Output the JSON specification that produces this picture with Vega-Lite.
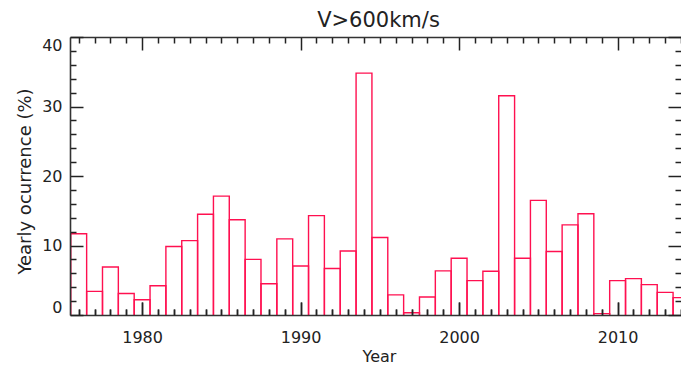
{
  "$schema": "https://vega.github.io/schema/vega-lite/v6.json",
  "width": 611,
  "height": 278,
  "autosize": "none",
  "padding": {"left": 70, "top": 37, "right": 0, "bottom": 51},
  "background": "white",
  "config": {
    "view": {"stroke": null},
    "font": "DejaVu Sans",
    "axis": {
      "grid": false,
      "zindex": 2,
      "domainColor": "#333",
      "domainWidth": 1.6,
      "tickColor": "#222",
      "tickWidth": 1.5,
      "labelFont": "DejaVu Sans",
      "labelFontSize": 16,
      "labelColor": "#222",
      "titleFont": "DejaVu Sans",
      "titleFontWeight": "normal",
      "titleColor": "#222",
      "labelOverlap": false
    }
  },
  "title": {
    "text": "V>600km/s",
    "font": "DejaVu Sans",
    "fontSize": 21,
    "fontWeight": "normal",
    "color": "#222",
    "offset": 5,
    "dx": 3
  },
  "data": {
    "values": [
      {"start": 1975.5, "end": 1976.5, "v": 11.7},
      {"start": 1976.5, "end": 1977.5, "v": 3.4},
      {"start": 1977.5, "end": 1978.5, "v": 6.9},
      {"start": 1978.5, "end": 1979.5, "v": 3.1},
      {"start": 1979.5, "end": 1980.5, "v": 2.2},
      {"start": 1980.5, "end": 1981.5, "v": 4.2},
      {"start": 1981.5, "end": 1982.5, "v": 9.85},
      {"start": 1982.5, "end": 1983.5, "v": 10.7},
      {"start": 1983.5, "end": 1984.5, "v": 14.5},
      {"start": 1984.5, "end": 1985.5, "v": 17.1},
      {"start": 1985.5, "end": 1986.5, "v": 13.7},
      {"start": 1986.5, "end": 1987.5, "v": 8.0},
      {"start": 1987.5, "end": 1988.5, "v": 4.5},
      {"start": 1988.5, "end": 1989.5, "v": 10.95},
      {"start": 1989.5, "end": 1990.5, "v": 7.05},
      {"start": 1990.5, "end": 1991.5, "v": 14.3},
      {"start": 1991.5, "end": 1992.5, "v": 6.7},
      {"start": 1992.5, "end": 1993.5, "v": 9.2},
      {"start": 1993.5, "end": 1994.5, "v": 34.8},
      {"start": 1994.5, "end": 1995.5, "v": 11.15},
      {"start": 1995.5, "end": 1996.5, "v": 2.9},
      {"start": 1996.5, "end": 1997.5, "v": 0.33},
      {"start": 1997.5, "end": 1998.5, "v": 2.6},
      {"start": 1998.5, "end": 1999.5, "v": 6.35},
      {"start": 1999.5, "end": 2000.5, "v": 8.17},
      {"start": 2000.5, "end": 2001.5, "v": 4.95},
      {"start": 2001.5, "end": 2002.5, "v": 6.3},
      {"start": 2002.5, "end": 2003.5, "v": 31.55},
      {"start": 2003.5, "end": 2004.5, "v": 8.17},
      {"start": 2004.5, "end": 2005.5, "v": 16.5},
      {"start": 2005.5, "end": 2006.5, "v": 9.13},
      {"start": 2006.5, "end": 2007.5, "v": 12.97},
      {"start": 2007.5, "end": 2008.5, "v": 14.56},
      {"start": 2008.5, "end": 2009.5, "v": 0.2},
      {"start": 2009.5, "end": 2010.5, "v": 4.95},
      {"start": 2010.5, "end": 2011.5, "v": 5.24},
      {"start": 2011.5, "end": 2012.5, "v": 4.37},
      {"start": 2012.5, "end": 2013.5, "v": 3.26},
      {"start": 2013.5, "end": 2014.5, "v": 2.5}
    ]
  },
  "resolve": {"axis": {"x": "independent", "y": "independent"}},
  "layer": [
    {
      "mark": {"type": "rect", "fill": null, "fillOpacity": 0, "stroke": "#ff1050", "strokeWidth": 1.4, "clip": true},
      "encoding": {
        "x": {
          "field": "start",
          "type": "quantitative",
          "scale": {"domain": [1975.45, 2014.0], "nice": false, "zero": false},
          "axis": {
            "orient": "bottom",
            "zindex": 2,
            "title": "Year",
            "titleFontSize": 16,
            "titleX": 309,
            "titleY": 41,
            "titleBaseline": "middle",
            "values": [1976,1977,1978,1979,1980,1981,1982,1983,1984,1985,1986,1987,1988,1989,1990,1991,1992,1993,1994,1995,1996,1997,1998,1999,2000,2001,2002,2003,2004,2005,2006,2007,2008,2009,2010,2011,2012,2013,2014],
            "format": "d",
            "labelExpr": "datum.value % 10 === 0 ? datum.label : ''",
            "tickSize": {"condition": {"test": "datum.value % 10 === 0", "value": -13}, "value": -6},
            "labelPadding": 27
          }
        },
        "x2": {"field": "end"},
        "y": {
          "field": "v",
          "type": "quantitative",
          "scale": {"domain": [0, 40], "nice": false, "zero": true},
          "axis": {
            "orient": "left",
            "zindex": 2,
            "title": "Yearly ocurrence (%)",
            "titleFontSize": 18,
            "titleX": -45,
            "titleY": 144,
            "titleBaseline": "middle",
            "values": [0,2,4,6,8,10,12,14,16,18,20,22,24,26,28,30,32,34,36,38,40],
            "format": "d",
            "labelExpr": "datum.value % 10 === 0 ? datum.label : ''",
            "tickSize": {"condition": {"test": "datum.value % 10 === 0", "value": -13}, "value": -6},
            "labelPadding": 21,
            "labelFlush": true
          }
        },
        "y2": {"datum": -1}
      }
    },
    {
      "mark": {"type": "rect", "fillOpacity": 0, "strokeOpacity": 0, "clip": true},
      "encoding": {
        "x": {
          "field": "start",
          "type": "quantitative",
          "axis": {
            "orient": "top",
            "zindex": 2,
            "title": null,
            "labels": false,
            "values": [1976,1977,1978,1979,1980,1981,1982,1983,1984,1985,1986,1987,1988,1989,1990,1991,1992,1993,1994,1995,1996,1997,1998,1999,2000,2001,2002,2003,2004,2005,2006,2007,2008,2009,2010,2011,2012,2013,2014],
            "tickSize": {"condition": {"test": "datum.value % 10 === 0", "value": -13}, "value": -6}
          }
        },
        "x2": {"field": "end"},
        "y": {
          "field": "v",
          "type": "quantitative",
          "axis": {
            "orient": "right",
            "zindex": 2,
            "title": null,
            "labels": false,
            "domain": false,
            "values": [0,2,4,6,8,10,12,14,16,18,20,22,24,26,28,30,32,34,36,38,40],
            "tickSize": {"condition": {"test": "datum.value % 10 === 0", "value": -13}, "value": -6}
          }
        },
        "y2": {"datum": 0}
      }
    },
    {
      "mark": {"type": "rect", "fillOpacity": 0, "strokeOpacity": 0, "clip": true},
      "encoding": {
        "x": {
          "field": "start",
          "type": "quantitative",
          "axis": {
            "orient": "bottom",
            "zindex": 3,
            "title": null,
            "labels": false,
            "domain": false,
            "values": [1976,1977,1978,1979,1980,1981,1982,1983,1984,1985,1986,1987,1988,1989,1990,1991,1992,1993,1994,1995,1996,1997,1998,1999,2000,2001,2002,2003,2004,2005,2006,2007,2008,2009,2010,2011,2012,2013,2014],
            "tickSize": {"condition": {"test": "datum.value % 10 === 0", "value": -13}, "value": -6}
          }
        },
        "x2": {"field": "end"},
        "y": {
          "field": "v",
          "type": "quantitative",
          "axis": null
        },
        "y2": {"datum": 0}
      }
    }
  ]
}
